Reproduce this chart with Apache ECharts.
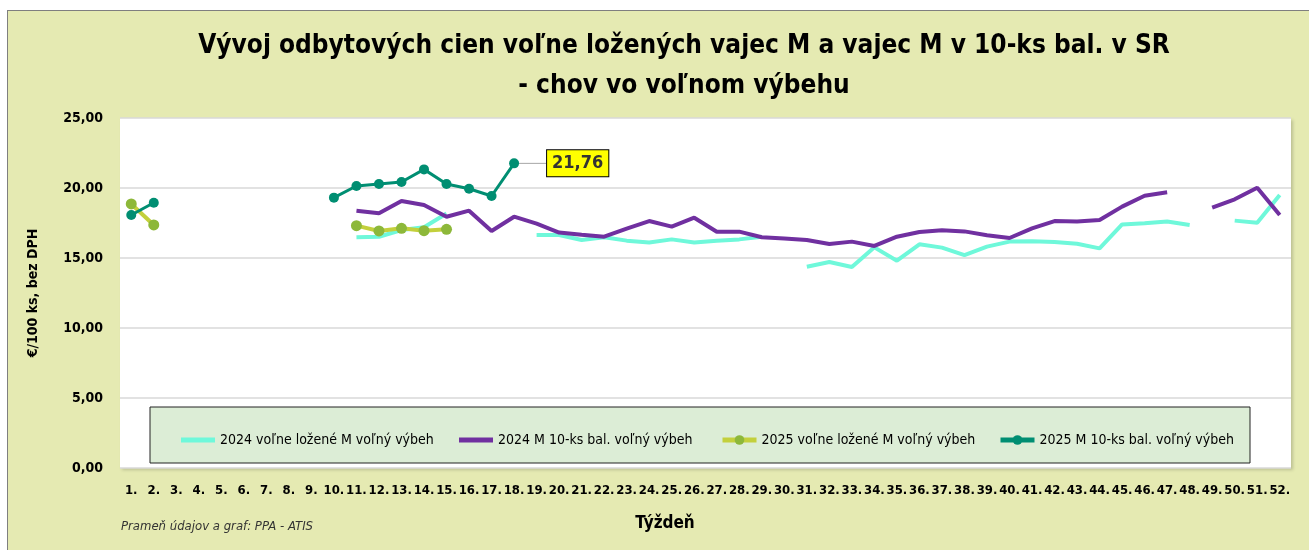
<!DOCTYPE html>
<html lang="sk">
<head>
<meta charset="UTF-8">
<title>Vajcia</title>
<script src="https://cdn.jsdelivr.net/npm/echarts@6/dist/echarts.min.js"></script>
<style>
  body { margin: 0; background: #fff; }
  #frame { position: absolute; left: 7px; top: 10px; width: 1310px; height: 545px; background: #E5EAB2; border: 1px solid #7f7f7f; }
  #ech { position: absolute; left: 0; top: 0; width: 1309px; height: 550px; }
</style>
</head>
<body>
<div id="frame"></div>
<div id="ech"></div>
<script>
const weeks = ['1.','2.','3.','4.','5.','6.','7.','8.','9.','10.','11.','12.','13.','14.','15.','16.','17.','18.','19.','20.','21.','22.','23.','24.','25.','26.','27.','28.','29.','30.','31.','32.','33.','34.','35.','36.','37.','38.','39.','40.','41.','42.','43.','44.','45.','46.','47.','48.','49.','50.','51.','52.'];

// 2024 voľne ložené M voľný výbeh
const volne2024 = [null,null,null,null,null,null,null,null,null,null,
  16.48,16.52,17.0,17.2,18.18,null,null,null,16.64,16.64,
  16.29,16.48,16.24,16.1,16.33,16.1,16.24,16.33,16.52,null,
  14.38,14.71,14.36,15.76,14.81,15.98,15.74,15.21,15.81,16.17,
  16.2,16.14,16.02,15.69,17.4,17.48,17.6,17.36,null,17.67,
  17.52,19.5];
// 2024 M 10-ks bal. voľný výbeh
const bal2024 = [null,null,null,null,null,null,null,null,null,null,
  18.38,18.19,19.07,18.79,17.95,18.38,16.93,17.95,17.45,16.82,
  16.66,16.52,17.1,17.64,17.24,17.88,16.88,16.88,16.48,16.4,
  16.29,16.0,16.17,15.86,16.52,16.86,16.98,16.9,16.62,16.43,
  17.12,17.64,17.6,17.71,18.67,19.45,19.69,null,18.6,19.19,
  20.02,18.07];
// 2025 voľne ložené M voľný výbeh
const volne2025 = [18.86,17.36,null,null,null,null,null,null,null,null,
  17.31,16.93,17.12,16.95,17.05];
// 2025 M 10-ks bal. voľný výbeh
const bal2025 = [18.07,18.95,null,null,null,null,null,null,null,19.31,
  20.14,20.29,20.43,21.33,20.29,19.95,19.43,21.76];

const names = ['2024 voľne ložené M voľný výbeh','2024 M 10-ks bal. voľný výbeh','2025 voľne ložené M voľný výbeh','2025 M 10-ks bal. voľný výbeh'];
const fnt = "'Liberation Sans Narrow', 'DejaVu Sans Condensed', sans-serif";

let my_echart = echarts.init(document.getElementById('ech'));

function lastLabel(arr) {
  // štítok pri poslednej hodnote 2025
  return arr.map((v, i) => i === arr.length - 1 ? {
    value: v,
    label: {
      show: true, position: 'right', distance: 4,
      formatter: p => p.value.toFixed(2).replace('.', ','),
      backgroundColor: '#FFFF00', borderColor: '#000', borderWidth: 1,
      padding: [5, 5, 3, 5], color: '#333', fontWeight: 'bold', fontSize: 18, fontFamily: fnt
    },
    labelLine: { show: true, lineStyle: { color: '#a6a6a6', width: 1 } }
  } : v);
}

const legendLefts = [176, 454, 715, 993];

let option = {
  animation: false,
  backgroundColor: 'transparent',
  graphic: [
    { type: 'rect', z: 3, shape: { x: 150, y: 407, width: 1100, height: 56 },
      style: { fill: '#DCEDD6', stroke: '#222', lineWidth: 1 } },
    { type: 'text', style: { x: 684, y: 46, text: 'Vývoj odbytových cien voľne ložených vajec M a vajec M v 10-ks bal. v SR',
      textAlign: 'center', textVerticalAlign: 'middle', font: "bold 26px " + fnt, fill: '#000' } },
    { type: 'text', style: { x: 684, y: 86, text: '- chov vo voľnom výbehu',
      textAlign: 'center', textVerticalAlign: 'middle', font: "bold 26px " + fnt, fill: '#000' } },
    { type: 'text', style: { x: 665, y: 524, text: 'Týždeň',
      textAlign: 'center', textVerticalAlign: 'middle', font: "bold 17px " + fnt, fill: '#000' } },
    { type: 'text', style: { x: 121, y: 527, text: 'Prameň údajov a graf: PPA - ATIS',
      textAlign: 'left', textVerticalAlign: 'middle', font: "italic 13px " + fnt, fill: '#333' } }
  ],
  legend: names.map((n, i) => {
    let lg = {
      data: [n], left: legendLefts[i], top: 428, z: 5, itemWidth: 34, itemHeight: 12,
      lineStyle: { width: 5 },
      textStyle: { fontSize: 14, fontFamily: fnt, color: '#000' }
    };
    if (i < 2) { lg.icon = 'rect'; lg.itemHeight = 5; }
    return lg;
  }),
  grid: { left: 120, right: 18, top: 118, bottom: 82, show: true, backgroundColor: '#fff', borderWidth: 0,
    shadowColor: 'rgba(0,0,0,0.18)', shadowBlur: 3, shadowOffsetX: 2, shadowOffsetY: 2 },
  xAxis: {
    type: 'category', data: weeks, boundaryGap: true,
    axisLine: { show: false }, axisTick: { show: false },
    axisLabel: { interval: 0, margin: 16, fontSize: 13, fontWeight: 'bold', fontFamily: fnt, color: '#000' }
  },
  yAxis: {
    type: 'value', min: 0, max: 25, interval: 5,
    name: '€/100 ks, bez DPH', nameLocation: 'middle', nameGap: 80,
    nameTextStyle: { fontSize: 14, fontWeight: 'bold', fontFamily: fnt, color: '#000' },
    axisLine: { show: false }, axisTick: { show: false },
    axisLabel: { margin: 17, fontSize: 14, fontWeight: 'bold', fontFamily: fnt, color: '#000',
      formatter: v => v.toFixed(2).replace('.', ',') },
    splitLine: { lineStyle: { color: '#d9d9d9', width: 1.5 } }
  },
  series: [{
    name: names[0], type: 'line', data: volne2024, showSymbol: false, symbol: 'none',
    itemStyle: { color: '#6FF8DA' }, lineStyle: { width: 4, color: '#6FF8DA' }
  }, {
    name: names[1], type: 'line', data: bal2024, showSymbol: false, symbol: 'none',
    itemStyle: { color: '#7030A0' }, lineStyle: { width: 4, color: '#7030A0' }
  }, {
    name: names[2], type: 'line', data: volne2025, symbol: 'circle', symbolSize: 11,
    itemStyle: { color: '#8DB83A' }, lineStyle: { width: 4, color: '#C3D03C' }
  }, {
    name: names[3], type: 'line', data: lastLabel(bal2025), symbol: 'circle', symbolSize: 10,
    itemStyle: { color: '#008E72' }, lineStyle: { width: 3, color: '#008E72' },
    labelLayout: { dx: 24 }
  }]
};

my_echart.setOption(option);
</script>
</body>
</html>
